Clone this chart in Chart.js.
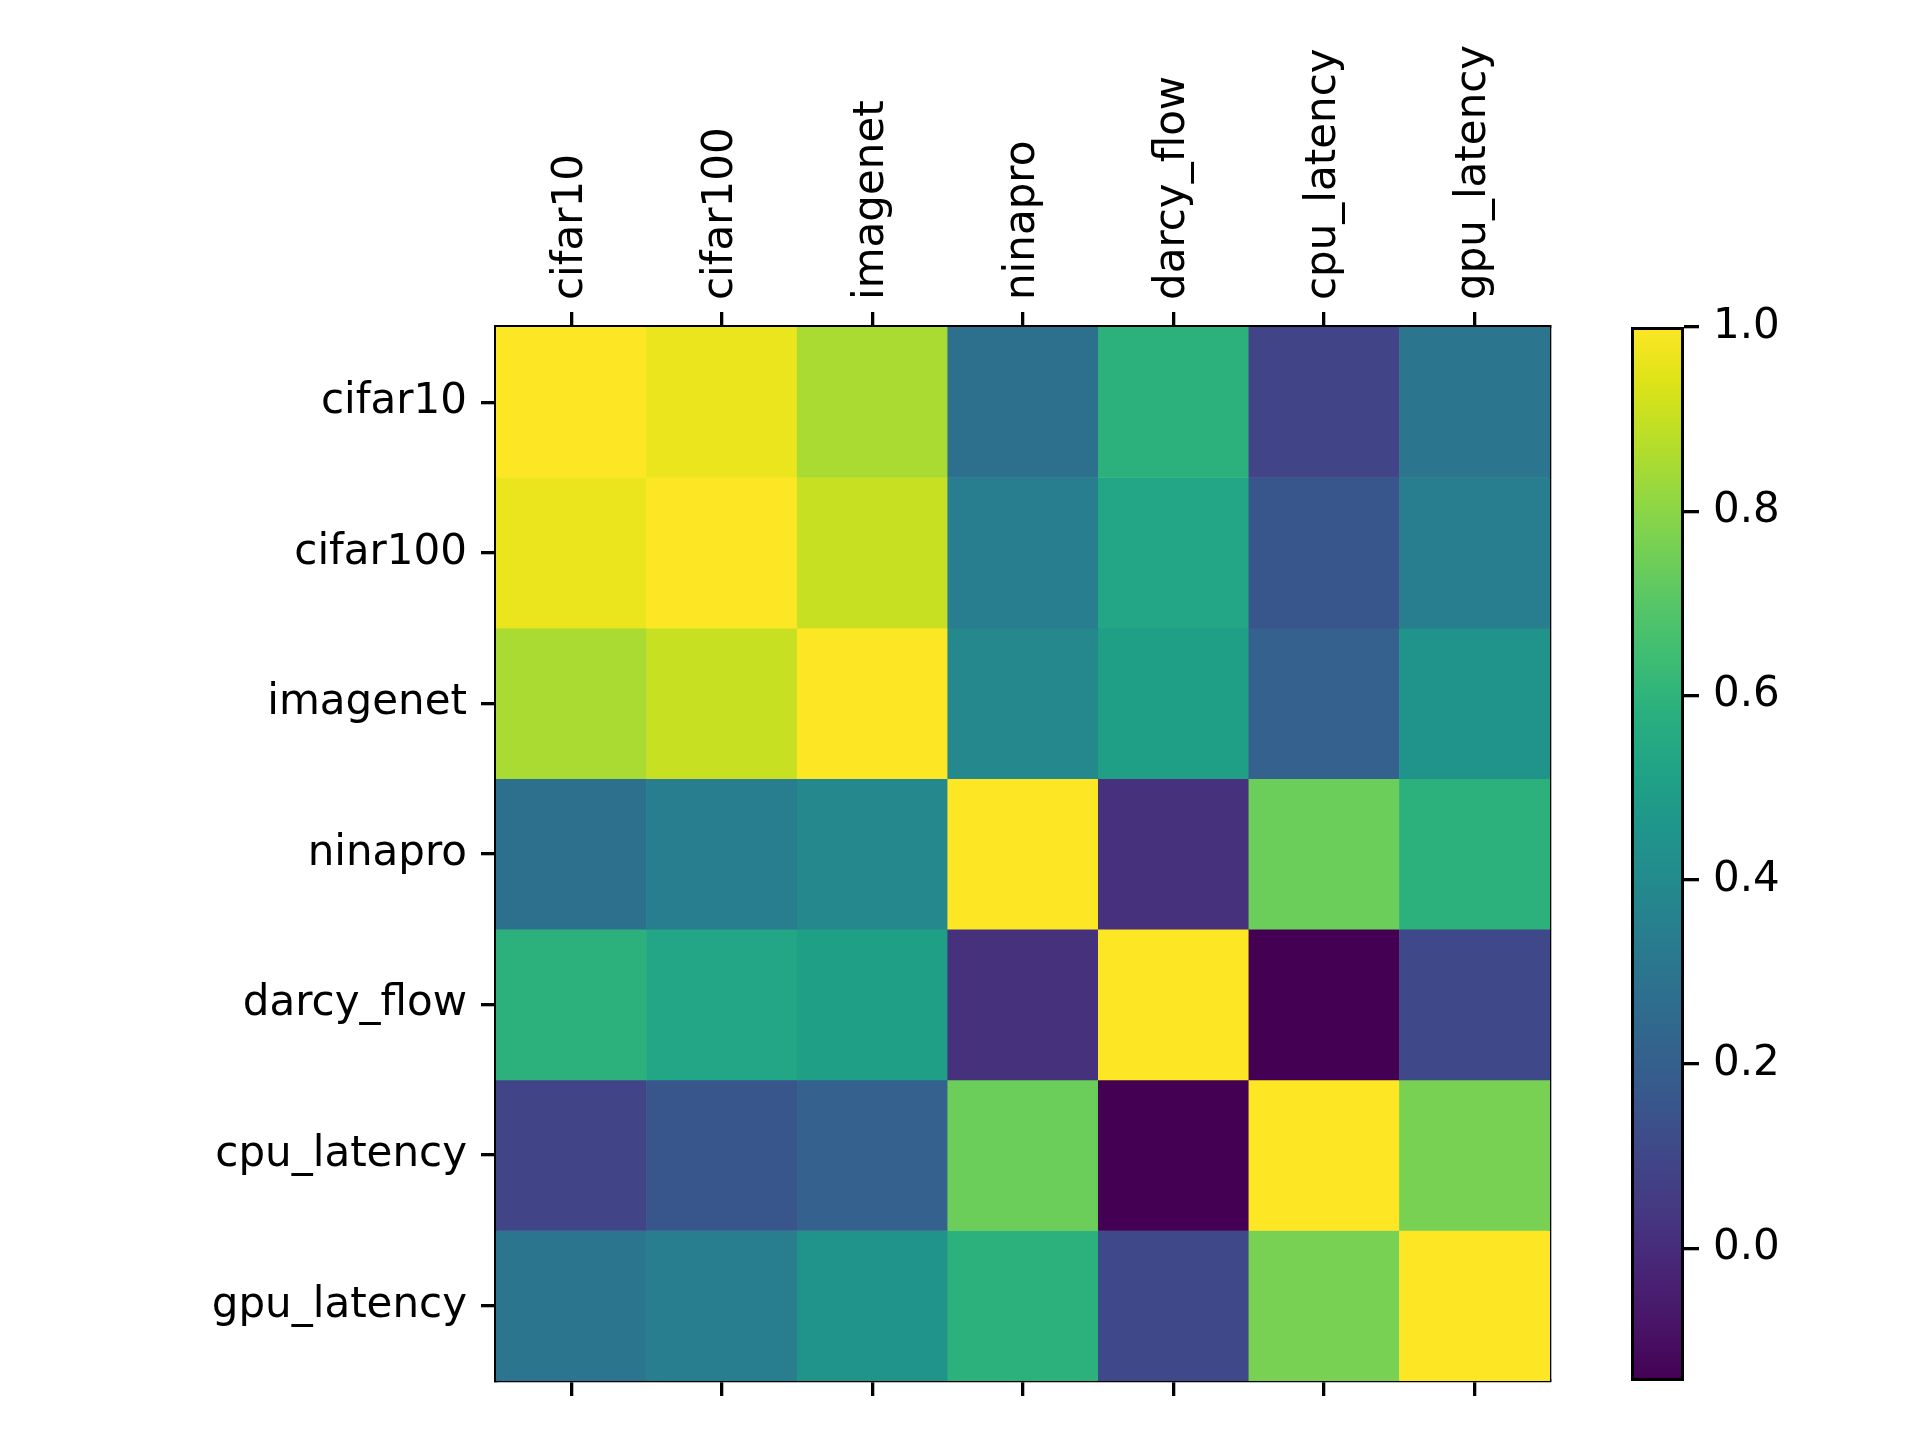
<!DOCTYPE html>
<html>
<head>
<meta charset="utf-8">
<script src="https://cdn.jsdelivr.net/npm/chart.js@4/dist/chart.umd.min.js"></script>
<style>
  html, body { margin: 0; padding: 0; background: #ffffff; }
  #wrap { position: relative; width: 1920px; height: 1440px; }
  canvas { position: absolute; left: 0; top: 0; }
</style>
</head>
<body>
<div id="wrap">
  <canvas id="heat" width="1920" height="1440"></canvas>
  <canvas id="cbar" width="1920" height="1440"></canvas>
</div>
<script>
// ---- data ----
const labels = ['cifar10', 'cifar100', 'imagenet', 'ninapro', 'darcy_flow', 'cpu_latency', 'gpu_latency'];

const row_cifar10     = [1.000, 0.966, 0.852, 0.277, 0.588, 0.090, 0.300];
const row_cifar100    = [0.966, 1.000, 0.904, 0.338, 0.531, 0.157, 0.336];
const row_imagenet    = [0.852, 0.904, 1.000, 0.388, 0.502, 0.210, 0.450];
const row_ninapro     = [0.277, 0.338, 0.388, 1.000, 0.016, 0.739, 0.588];
const row_darcy_flow  = [0.588, 0.531, 0.502, 0.016, 1.000, -0.144, 0.108];
const row_cpu_latency = [0.090, 0.157, 0.210, 0.739, -0.144, 1.000, 0.765];
const row_gpu_latency = [0.300, 0.336, 0.450, 0.588, 0.108, 0.765, 1.000];

const rows = [row_cifar10, row_cifar100, row_imagenet, row_ninapro, row_darcy_flow, row_cpu_latency, row_gpu_latency];

const cbarTicks = [0.0, 0.2, 0.4, 0.6, 0.8, 1.0];

// viridis colormap samples (20 evenly spaced)
const viridis = ['#440154', '#481467', '#482576', '#453781', '#404688', '#39568c', '#33638d', '#2d708e', '#287d8e', '#238a8d',
                 '#1f968b', '#20a386', '#29af7f', '#3dbc74', '#56c667', '#75d054', '#95d840', '#bade28', '#dde318', '#fde725'];

const vmin = Math.min(...rows.flat());
const vmax = Math.max(...rows.flat());

function hexToRgb(h) {
  return [parseInt(h.slice(1, 3), 16), parseInt(h.slice(3, 5), 16), parseInt(h.slice(5, 7), 16)];
}
function cmap(v) {
  let t = (v - vmin) / (vmax - vmin);
  t = Math.max(0, Math.min(1, t));
  const n = viridis.length - 1;
  const p = t * n;
  const i = Math.min(Math.floor(p), n - 1);
  const f = p - i;
  const a = hexToRgb(viridis[i]), b = hexToRgb(viridis[i + 1]);
  const c = a.map((x, k) => Math.round(x + (b[k] - x) * f));
  return `rgb(${c[0]},${c[1]},${c[2]})`;
}

Chart.defaults.font.family = 'DejaVu Sans';
Chart.defaults.font.size = 42;
Chart.defaults.color = '#000000';

const LEFT = 496, TOP = 327, RIGHT = 1550, BOTTOM = 1381;
const W = 1920, H = 1440;

const axisGrid = { drawOnChartArea: false, drawTicks: true, tickLength: 15, color: '#000000', lineWidth: 3.3 };
const axisBorder = { display: true, color: '#000000', width: 3.3 };

// ---- heatmap ----
const datasets = rows.map((vals, r) => ({
  label: labels[r],
  data: vals.map(() => [r - 0.002, r + 1.002]),
  backgroundColor: vals.map(cmap),
  borderWidth: 0,
  barPercentage: 1.004,
  categoryPercentage: 1.0,
  grouped: false,
  xAxisID: 'x',
  yAxisID: 'y'
}));

new Chart(document.getElementById('heat'), {
  type: 'bar',
  data: { labels: labels, datasets: datasets },
  options: {
    responsive: false,
    devicePixelRatio: 1,
    animation: false,
    events: [],
    layout: { padding: { left: 0, top: 0, right: 0, bottom: 0 } },
    plugins: { legend: { display: false }, tooltip: { enabled: false } },
    scales: {
      x: {
        type: 'category',
        position: 'top',
        offset: true,
        grid: Object.assign({ offset: false }, axisGrid),
        border: axisBorder,
        ticks: { autoSkip: false, maxRotation: 90, minRotation: 90, padding: 12, labelOffset: 50 },
        afterFit: (s) => { s.height = TOP; }
      },
      x2: {
        type: 'category',
        position: 'bottom',
        labels: labels,
        offset: true,
        grid: Object.assign({ offset: false }, axisGrid),
        border: axisBorder,
        ticks: { autoSkip: false, maxRotation: 0, minRotation: 0, callback: () => '' },
        afterFit: (s) => { s.height = H - BOTTOM; }
      },
      y: {
        type: 'linear',
        position: 'left',
        reverse: true,
        min: 0,
        max: labels.length,
        grid: axisGrid,
        border: axisBorder,
        afterBuildTicks: (s) => { s.ticks = labels.map((_, i) => ({ value: i + 0.5 })); },
        ticks: { autoSkip: false, padding: 14, callback: (v) => labels[Math.floor(v)] },
        afterFit: (s) => { s.width = LEFT; }
      },
      y2: {
        type: 'linear',
        position: 'right',
        min: 0,
        max: labels.length,
        grid: { display: false, drawOnChartArea: false, drawTicks: false },
        border: axisBorder,
        ticks: { display: false },
        afterFit: (s) => { s.width = W - RIGHT; }
      }
    }
  }
});

// ---- colorbar ----
const CB_LEFT = 1631, CB_RIGHT = 1684;

function gradientFill(context) {
  const chart = context.chart;
  const area = chart.chartArea;
  if (!area) return viridis[0];
  const g = chart.ctx.createLinearGradient(0, area.bottom, 0, area.top);
  viridis.forEach((c, i) => g.addColorStop(i / (viridis.length - 1), c));
  return g;
}

new Chart(document.getElementById('cbar'), {
  type: 'bar',
  data: {
    labels: [''],
    datasets: [{
      data: [[vmin, vmax]],
      backgroundColor: gradientFill,
      borderColor: '#000000',
      borderWidth: 3.3,
      borderSkipped: false,
      barPercentage: 1.0,
      categoryPercentage: 1.0
    }]
  },
  options: {
    responsive: false,
    devicePixelRatio: 1,
    animation: false,
    events: [],
    layout: { padding: { left: CB_LEFT, top: TOP, right: 0, bottom: H - BOTTOM } },
    plugins: { legend: { display: false }, tooltip: { enabled: false } },
    scales: {
      x: { type: 'category', display: false, offset: true },
      y: {
        type: 'linear',
        position: 'right',
        min: vmin,
        max: vmax,
        grid: axisGrid,
        border: { display: false },
        afterBuildTicks: (s) => { s.ticks = cbarTicks.map(v => ({ value: v })); },
        ticks: { padding: 14, callback: (v) => v.toFixed(1) },
        afterFit: (s) => { s.width = W - CB_RIGHT; }
      }
    }
  }
});
</script>
</body>
</html>
